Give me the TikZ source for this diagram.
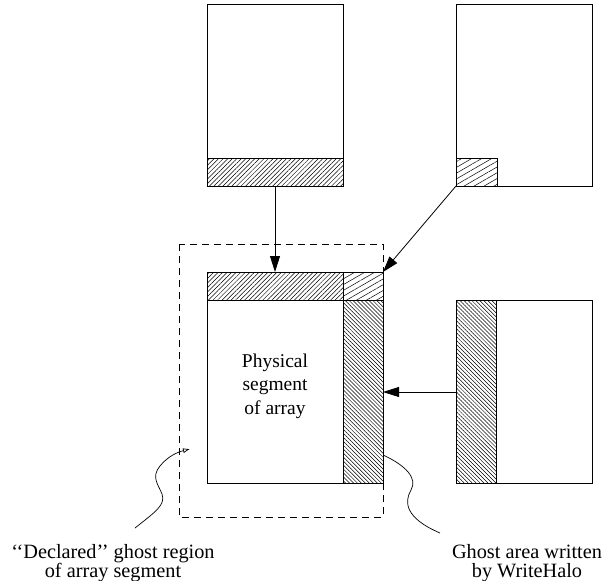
\documentclass[tikz,border=0pt]{standalone}
\usepackage{fontspec}
\setmainfont{Liberation Serif}
\usetikzlibrary{patterns.meta,arrows.meta}
\tikzset{
  box/.style={draw=black,line width=0.8pt},
  hatchA/.style={pattern={Lines[angle=45,distance=3.2pt,line width=0.5pt]}},
  hatchB/.style={pattern={Lines[angle=30,distance=5pt,line width=0.5pt]}},
  hatchC/.style={pattern={Lines[angle=-45,distance=2.8pt,line width=0.5pt]}},
  arr/.style={line width=0.8pt,-{Triangle[length=16pt,width=10pt]}},
  wavy/.style={line width=0.7pt},
  lbl/.style={font=\fontsize{19.5}{23.5}\selectfont,align=center,inner sep=0pt},
  lblb/.style={font=\fontsize{20.3}{19}\selectfont,align=center,inner sep=0pt},
  ghost/.style={draw=black,line width=0.7pt,dash pattern=on 7pt off 5pt}
}
\begin{document}
\begin{tikzpicture}[x=1pt,y=-1pt]
\useasboundingbox (0,0) rectangle (603,581);
% dashed declared region
\draw[ghost] (179,244) rectangle (383,517);
% top-left box
\fill[white] (207,4) rectangle (343,186);
\path[hatchA] (207,158) rectangle (343,186);
\draw[box] (207,4) rectangle (343,186);
\draw[box] (207,158) -- (343,158);
% top-right box
\path[hatchB] (456,158) rectangle (497,186);
\draw[box] (456,4) rectangle (592,186);
\draw[box] (456,158) -- (497,158) -- (497,186);
% central box
\fill[white] (207,272) rectangle (383,483);
\path[hatchA] (207,272) rectangle (343,300);
\path[hatchB] (343,272) rectangle (383,300);
\path[hatchC] (343,300) rectangle (383,483);
\draw[box] (207,272) rectangle (383,483);
\draw[box] (207,300) -- (383,300);
\draw[box] (343,272) -- (343,483);
% right box
\path[hatchC] (456,300) rectangle (496,483);
\draw[box] (456,300) rectangle (592,483);
\draw[box] (496,300) -- (496,483);
% named coordinates
\coordinate (tlout) at (275,186);
\coordinate (ctopin) at (275,272);
\coordinate (trout) at (456,186);
\coordinate (ccorner) at (383,272);
\coordinate (rout) at (456,392);
\coordinate (crightin) at (383,392);
\coordinate (declstart) at (135,528);
\coordinate (decltip) at (190,449);
\coordinate (ghstart) at (383,455);
\coordinate (ghend) at (440,533);
% arrows
\draw[arr] (tlout) -- (ctopin);
\draw[arr] (trout) -- (ccorner);
\draw[arr] (rout) -- (crightin);
% wavy leaders
\draw[wavy,-{Latex[open,length=7pt,width=5pt]}] (declstart) .. controls (155,512) and (166,505) .. (162,494)
  .. controls (158,484) and (151,477) .. (160,466) .. controls (168,456) and (178,452) .. (decltip);
\draw[wavy] (ghstart) .. controls (405,465) and (418,478) .. (411,490)
  .. controls (404,502) and (405,518) .. (ghend);
% labels
\node[lbl] (phys) at (275,386) {Physical\\segment\\of array};
\node[lblb] (decl) at (113,563) {{`}{`}Declared{'}{'} ghost region\\of array segment};
\node[lblb] (ghl) at (527,563) {Ghost area written\\by WriteHalo};
\end{tikzpicture}
\end{document}
